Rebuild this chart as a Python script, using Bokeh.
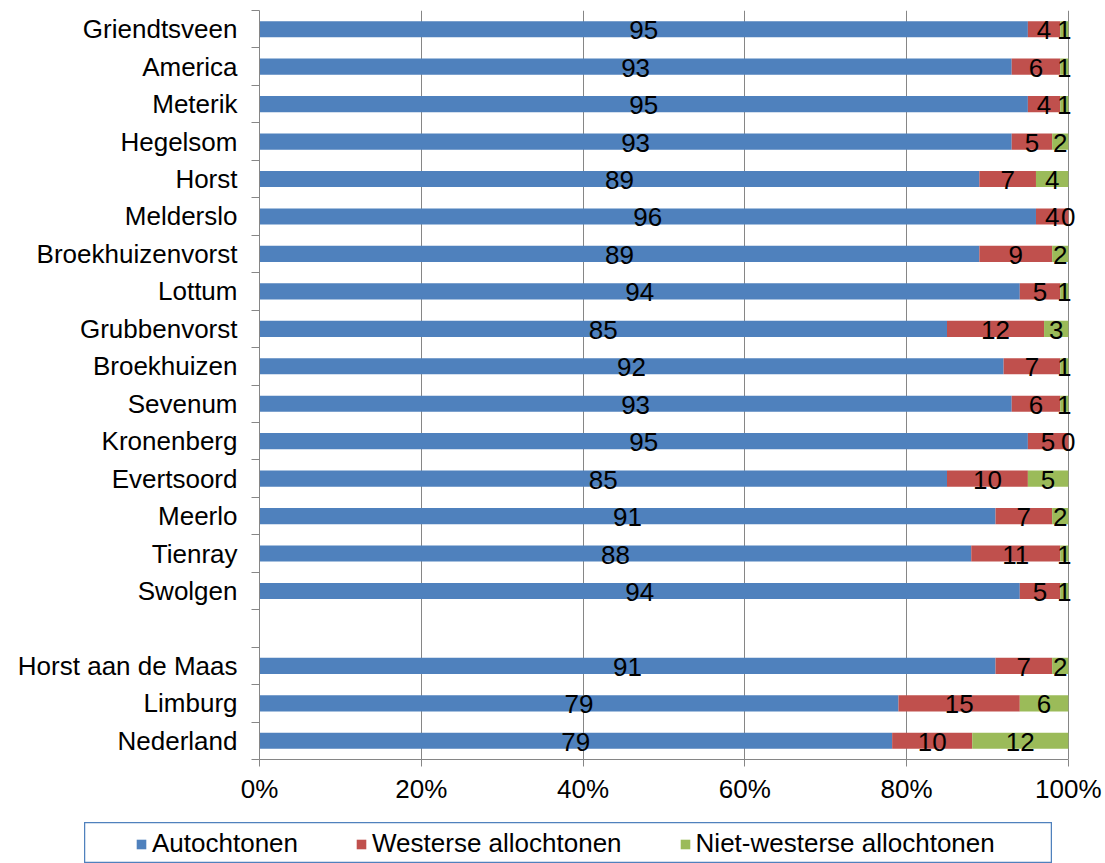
from bokeh.plotting import figure
from bokeh.models import (ColumnDataSource, FixedTicker, NumeralTickFormatter, Range1d,
                          Legend, LegendItem, Spacer, LabelSet)
from bokeh.layouts import column, row
from bokeh.core.properties import value
from bokeh.embed import file_html
from bokeh.resources import INLINE

# Categories top to bottom ("" = blank separator row)
categories = ["Griendtsveen", "America", "Meterik", "Hegelsom", "Horst", "Melderslo",
              "Broekhuizenvorst", "Lottum", "Grubbenvorst", "Broekhuizen", "Sevenum",
              "Kronenberg", "Evertsoord", "Meerlo", "Tienray", "Swolgen", "",
              "Horst aan de Maas", "Limburg", "Nederland"]
autochtonen = [95, 93, 95, 93, 89, 96, 89, 94, 85, 92, 93, 95, 85, 91, 88, 94, None, 91, 79, 79]
westerse = [4, 6, 4, 5, 7, 4, 9, 5, 12, 7, 6, 5, 10, 7, 11, 5, None, 7, 15, 10]
niet_westerse = [1, 1, 1, 2, 4, 0, 2, 1, 3, 1, 1, 0, 5, 2, 1, 1, None, 2, 6, 12]
series_names = ["Autochtonen", "Westerse allochtonen", "Niet-westerse allochtonen"]
tick_values = [0, 0.2, 0.4, 0.6, 0.8, 1.0]

colors = ["#4F81BD", "#C0504D", "#9BBB59"]
FONT = "Liberation Sans"
GRAY = "#868686"

n = len(categories)
ypos = [n - 1 - i for i in range(n)]

bars = {k: [] for k in ["y", "l0", "r0", "l1", "r1", "l2", "r2"]}
labels = {"x": [], "y": [], "t": []}
for i, cat in enumerate(categories):
    if cat == "":
        continue
    vals = [autochtonen[i], westerse[i], niet_westerse[i]]
    tot = float(sum(vals))
    left = 0.0
    bars["y"].append(ypos[i])
    for j, v in enumerate(vals):
        right = left + v / tot
        bars["l%d" % j].append(left)
        bars["r%d" % j].append(right)
        labels["x"].append((left + right) / 2)
        labels["y"].append(ypos[i])
        labels["t"].append(str(v))
        left = right

src = ColumnDataSource(bars)
lsrc = ColumnDataSource(labels)

W = 1105
# x range extends slightly beyond 100% so that labels at the edge are not clipped
p = figure(width=W, height=822, output_backend="svg", toolbar_location=None,
           x_range=Range1d(0, 1.02), y_range=Range1d(-0.5, n - 0.5),
           min_border_left=259, min_border_right=21, min_border_top=10, min_border_bottom=63)
p.outline_line_color = None
p.background_fill_color = "white"
p.border_fill_color = "white"

for j in range(3):
    p.hbar(y="y", left="l%d" % j, right="r%d" % j, height=0.43, source=src,
           fill_color=colors[j], line_color=None)

p.add_layout(LabelSet(x="x", y="y", text="t", source=lsrc, text_align="center",
                      text_baseline="middle", text_font=value(FONT), text_font_size="26px",
                      text_color="black", y_offset=-1))

# X axis
p.xaxis.bounds = (0, 1)
p.xaxis.ticker = FixedTicker(ticks=tick_values)
p.xaxis.formatter = NumeralTickFormatter(format="0%")
p.xaxis.axis_line_color = GRAY
p.xaxis.major_tick_line_color = GRAY
p.xaxis.major_tick_out = 7
p.xaxis.major_tick_in = 0
p.xaxis.minor_tick_line_color = None
p.xaxis.major_label_text_font = FONT
p.xaxis.major_label_text_font_size = "26px"
p.xaxis.major_label_text_color = "black"
p.xaxis.major_label_standoff = 7

# Y axis
centers = [ypos[i] for i in range(n) if categories[i] != ""]
bounds = [b - 0.5 for b in range(n + 1)]
p.yaxis.ticker = FixedTicker(ticks=centers, minor_ticks=bounds)
p.yaxis.major_label_overrides = {ypos[i]: categories[i] for i in range(n) if categories[i] != ""}
p.yaxis.axis_line_color = GRAY
p.yaxis.major_tick_line_color = None
p.yaxis.major_tick_out = 0
p.yaxis.major_tick_in = 0
p.yaxis.minor_tick_line_color = GRAY
p.yaxis.minor_tick_out = 8
p.yaxis.minor_tick_in = 0
p.yaxis.major_label_text_font = FONT
p.yaxis.major_label_text_font_size = "26px"
p.yaxis.major_label_text_color = "black"
p.yaxis.major_label_standoff = 14

p.xgrid.ticker = FixedTicker(ticks=tick_values)
p.xgrid.grid_line_color = GRAY
p.xgrid.grid_line_width = 1
p.ygrid.grid_line_color = None

# Legend figure (boxed)
lf = figure(width=968, height=41, output_backend="svg", toolbar_location=None,
            x_range=Range1d(0, 1), y_range=Range1d(0, 1),
            x_axis_location=None, y_axis_location=None, min_border=0)
lf.grid.grid_line_color = None
lf.outline_line_color = "#4F81BD"
lf.outline_line_width = 1.5
items = []
for j in range(3):
    r = lf.hbar(y=[-5], left=[0], right=[1], height=0.5, fill_color=colors[j], line_color=None)
    items.append(LegendItem(label=series_names[j], renderers=[r]))
leg = Legend(items=items, orientation="horizontal", location=(51, 4), padding=0, margin=0,
             spacing=57, glyph_width=12, glyph_height=12, label_standoff=5,
             label_text_font=FONT, label_text_font_size="26px", label_text_color="black",
             border_line_alpha=0, background_fill_alpha=0)
lf.add_layout(leg, "center")

layout = column(p, row(Spacer(width=84, height=41), lf), spacing=0)

open("out.html", "w").write(file_html(layout, INLINE))
